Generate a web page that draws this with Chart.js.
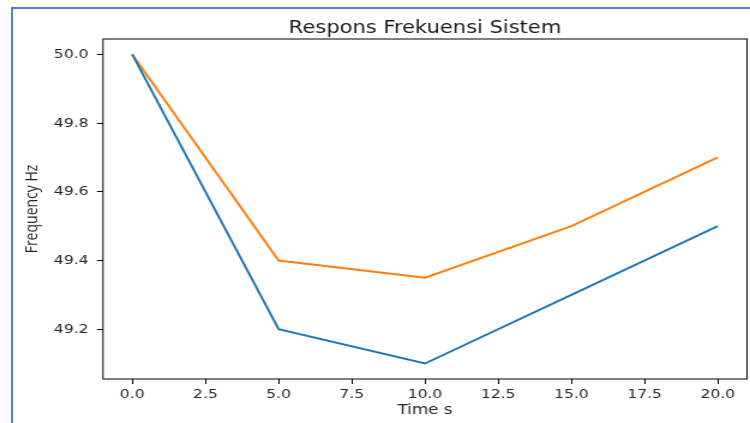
<!DOCTYPE html>
<html>
<head>
<meta charset="utf-8">
<script src="https://cdn.jsdelivr.net/npm/chart.js@4.4.1/dist/chart.umd.min.js"></script>
<style>
    html, body { margin: 0; padding: 0; background: #fff; overflow: hidden; }
    #frame { position: absolute; left: 11px; top: 7px; width: 800px; height: 500px;
             border-left: 2px solid #4f7fd6; border-top: 2px solid #4f7fd6; }
    #wrap { position: absolute; left: 0; top: 0; width: 625px; height: 423px;
            transform: scaleX(1.2); transform-origin: 0 0; }
</style>
</head>
<body>
<div id="frame"></div>
<div id="wrap"><canvas id="chart" width="625" height="423" style="width:625px;height:423px"></canvas></div>
<script>
const timeS = [0, 5, 10, 15, 20];
const freqBlue = [50.0, 49.2, 49.1, 49.3, 49.5];
const freqOrange = [50.0, 49.4, 49.35, 49.5, 49.7];
const xTicks = [0, 2.5, 5, 7.5, 10, 12.5, 15, 17.5, 20];
const yTicks = [49.2, 49.4, 49.6, 49.8, 50.0];
const titleText = "Respons Frekuensi Sistem";

const toPoints = ys => timeS.map((t, i) => ({ x: t, y: ys[i] }));

// matplotlib-style box around the axes plus a title centred on the plot area
const boxAndTitle = {
    id: "boxAndTitle",
    afterDraw(chart) {
        const { ctx, chartArea: a } = chart;
        ctx.save();
        ctx.strokeStyle = "#000";
        ctx.lineWidth = 1;
        ctx.strokeRect(a.left, a.top, a.right - a.left, a.bottom - a.top);
        ctx.fillStyle = "#1a1a1a";
        ctx.font = "17.5px 'DejaVu Sans'";
        ctx.textAlign = "center";
        ctx.textBaseline = "alphabetic";
        ctx.fillText(titleText, (a.left + a.right) / 2, 33);
        ctx.restore();
    }
};

const tickFont = { family: "DejaVu Sans", size: 13 };

new Chart(document.getElementById("chart"), {
    type: "line",
    data: {
        datasets: [
            { data: toPoints(freqBlue), borderColor: "#1f77b4", borderWidth: 2, pointRadius: 0, tension: 0, fill: false },
            { data: toPoints(freqOrange), borderColor: "#ff7f0e", borderWidth: 2, pointRadius: 0, tension: 0, fill: false }
        ]
    },
    options: {
        responsive: false,
        animation: false,
        devicePixelRatio: 1,
        layout: { padding: { top: 39, left: 0, right: 2.5, bottom: 0 } },
        plugins: { legend: { display: false }, tooltip: { enabled: false } },
        scales: {
            x: {
                type: "linear",
                min: -1.0,
                max: 21.0,
                afterBuildTicks: s => { s.ticks = xTicks.map(v => ({ value: v })); },
                afterFit: s => { s.height = 44; },
                border: { display: false },
                grid: { drawOnChartArea: false, drawTicks: true, tickLength: 5, color: "#000" },
                ticks: { font: tickFont, color: "#262626", padding: 3, maxRotation: 0,
                         callback: v => Number(v).toFixed(1) },
                title: { display: true, text: "Time s", color: "#262626",
                         font: { family: "DejaVu Sans", size: 14 }, padding: { top: 0, bottom: 4 } }
            },
            y: {
                min: 49.055,
                max: 50.045,
                afterBuildTicks: s => { s.ticks = yTicks.map(v => ({ value: v })); },
                afterFit: s => { s.width = 85.8; },
                border: { display: false },
                grid: { drawOnChartArea: false, drawTicks: true, tickLength: 5, color: "#000" },
                ticks: { font: tickFont, color: "#262626", padding: 7,
                         callback: v => Number(v).toFixed(1) },
                title: { display: true, text: "Frequency Hz", color: "#262626",
                         font: { family: "Open Sans", size: 14 }, padding: { top: 19, bottom: 0 } }
            }
        }
    },
    plugins: [boxAndTitle]
});
</script>
</body>
</html>
